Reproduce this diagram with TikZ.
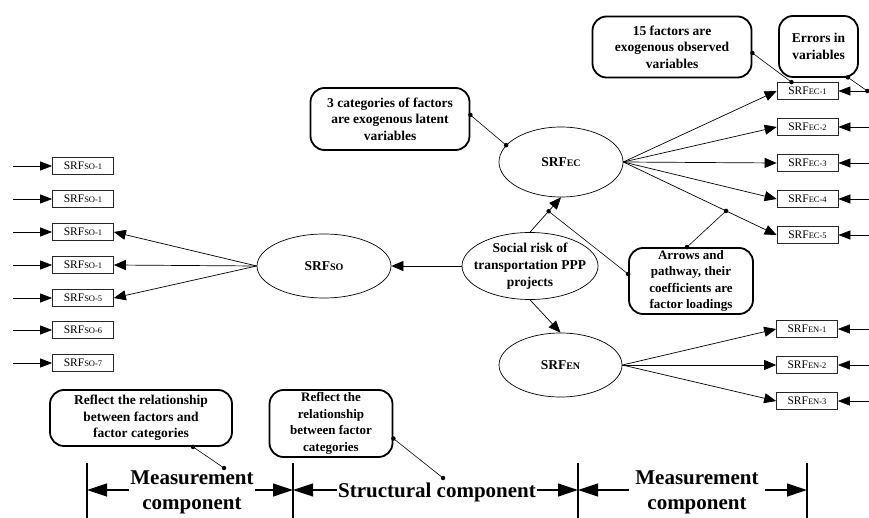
\documentclass[tikz,border=0pt]{standalone}
\usepackage{fontspec}
\setmainfont{Liberation Serif}
\usetikzlibrary{arrows.meta,calc,shapes.geometric}
\newcommand\srfl[1]{SRF{\fontsize{8.5}{8.5}\selectfont #1}}
\newcommand\srfb[1]{SRF{\fontsize{10}{10}\selectfont #1}}
\begin{document}
\begin{tikzpicture}[x=1pt,y=-1pt,
  obs/.style={draw=black!85,line width=0.7pt,minimum width=61pt,minimum height=17pt,inner sep=0pt,font=\fontsize{11.5}{11.5}\selectfont},
  lat/.style={draw,ellipse,line width=0.7pt,inner sep=0pt},
  lattxt/.style={align=center,inner sep=0pt,font=\bfseries\fontsize{13.5}{13.5}\selectfont},
  note/.style={draw,line width=1.8pt,rounded corners=14pt,align=center,inner sep=0pt,font=\bfseries\fontsize{13.5}{16.5}\selectfont},
  arr/.style={line width=0.7pt,-{Triangle[length=12pt,width=10pt]}},
  err/.style={line width=0.7pt,-{Triangle[length=12pt,width=9pt]}},
  lead/.style={line width=0.6pt},
  dot/.style={circle,fill,inner sep=0pt,minimum size=4.5pt},
  bar/.style={line width=1.2pt},
  dim/.style={line width=1.2pt,-{Triangle[length=20pt,width=13pt]}},
  big/.style={font=\bfseries\fontsize{21}{25}\selectfont,align=center,inner sep=0pt}
]
\useasboundingbox (0,0) rectangle (869,518);

% latent ellipses
\node[lat,minimum width=134pt,minimum height=64pt] (so) at (324,266) {};
\node[lattxt] (sotxt) at (so) {\srfb{SO}};
\node[lat,minimum width=136pt,minimum height=67pt] (soc) at (530,266) {};
\node[lattxt,font=\bfseries\fontsize{13.5}{17}\selectfont] (soctxt) at (soc) {Social risk of\\transportation PPP\\projects};
\node[lat,minimum width=124pt,minimum height=70pt] (ec) at (561,162) {};
\node[lattxt] (ectxt) at (ec) {\srfb{EC}};
\node[lat,minimum width=123pt,minimum height=64pt] (en) at (560.5,365) {};
\node[lattxt] (entxt) at (en) {\srfb{EN}};

% observed boxes
\node[obs] (so1) at (83,166) {\srfl{SO-1}};
\node[obs] (so2) at (83,199) {\srfl{SO-1}};
\node[obs] (so3) at (83,232) {\srfl{SO-1}};
\node[obs] (so4) at (83,265) {\srfl{SO-1}};
\node[obs] (so5) at (83,298) {\srfl{SO-5}};
\node[obs] (so6) at (83,330) {\srfl{SO-6}};
\node[obs] (so7) at (83,363) {\srfl{SO-7}};

\node[obs] (ec1) at (807.5,91) {\srfl{EC-1}};
\node[obs] (ec2) at (807.5,127) {\srfl{EC-2}};
\node[obs] (ec3) at (807.5,163) {\srfl{EC-3}};
\node[obs] (ec4) at (807.5,199) {\srfl{EC-4}};
\node[obs] (ec5) at (807.5,235) {\srfl{EC-5}};

\node[obs] (en1) at (807,329) {\srfl{EN-1}};
\node[obs] (en2) at (807,365) {\srfl{EN-2}};
\node[obs] (en3) at (807,401) {\srfl{EN-3}};

% structural arrows
\draw[arr] (soc.west) -- (so.east);
\draw[arr] (soc.north) -- (ec.south);
\draw[arr] (soc.south) -- (en.north);

% loadings
\foreach \i in {3,4,5} \draw[arr] (so.west) -- (so\i.east);
\foreach \i in {1,...,5} \draw[arr] (ec.east) -- (ec\i.west);
\foreach \i in {1,2,3} \draw[arr] (en.east) -- (en\i.west);

% error arrows
\foreach \i in {1,...,7} {
  \path (so\i.west) ++(-39,0) coordinate (soe\i);
  \draw[err] (soe\i) -- (so\i.west);
}
\foreach \i in {1,...,5} {
  \path (ec\i.east) ++(31,0) coordinate (ece\i);
  \draw[err] (ece\i) -- (ec\i.east);
}
\foreach \i in {1,2,3} {
  \path (en\i.east) ++(32,0) coordinate (ene\i);
  \draw[err] (ene\i) -- (en\i.east);
}

% callouts
\node[note,minimum width=159pt,minimum height=62pt] (n3cat) at (390,119) {3 categories of factors\\are exogenous latent\\variables};
\node[note,minimum width=159pt,minimum height=61pt] (n15) at (672,47) {15 factors are\\exogenous observed\\variables};
\node[note,minimum width=79pt,minimum height=61pt] (nerr) at (818.5,46.5) {Errors in\\variables};
\node[note,minimum width=124pt,minimum height=66pt,font=\bfseries\fontsize{13}{16.5}\selectfont] (narr) at (691,281) {Arrows and\\pathway, their\\coefficients are\\factor loadings};
\node[note,minimum width=182pt,minimum height=56pt,font=\bfseries\fontsize{13.5}{16.5}\selectfont] (nr1) at (141,418) {Reflect the relationship\\between factors and\\factor categories};
\node[note,minimum width=123pt,minimum height=67pt,font=\bfseries\fontsize{13}{16.5}\selectfont] (nr2) at (331,423.5) {Reflect the\\relationship\\between factor\\categories};

% leader lines with dots
\coordinate (c3a) at ($(n3cat.east)+(0,-4)$);
\coordinate (c3b) at (ec.163);
\coordinate (c15a) at ($(n15.east)+(0,6)$);
\coordinate (c15b) at ($(ec1.north)+(-16,0)$);
\coordinate (cea) at ($(nerr.south east)+(-11,-0.5)$);
\coordinate (ceb) at ($(ece1)+(-2,0)$);
\coordinate (caa) at ($(narr.north)+(-4,0)$);
\coordinate (cab) at ($(ec.east)!0.67!(ec5.west)$);
\coordinate (cac) at ($(narr.west)+(0,-7)$);
\coordinate (cad) at ($(soc.north)!0.6!(ec.south)$);
\coordinate (cr1a) at ($(nr1.south)+(52,0)$);
\coordinate (cr1b) at (224,468);
\coordinate (cr2a) at ($(nr2.east)+(0,15)$);
\coordinate (cr2b) at (443,478);

\draw[lead] (c3a) -- (c3b);
\draw[lead] (c15a) -- (c15b);
\draw[lead] (cea) -- (ceb);
\draw[lead] (caa) -- (cab);
\draw[lead] (cac) -- (cad);
\draw[lead] (cr1a) -- (cr1b);
\draw[lead] (cr2a) -- (cr2b);
\foreach \c in {c3a,c3b,c15a,c15b,cea,ceb,caa,cab,cac,cad,cr1a,cr1b,cr2a,cr2b}
  \node[dot] (dot-\c) at (\c) {};

% bottom dimension lines
\foreach \i/\x in {1/87,2/293,3/578,4/807} {
  \coordinate (bt\i) at (\x,463);
  \coordinate (bb\i) at (\x,518);
  \coordinate (b\i) at (\x,490);
  \draw[bar] (bt\i) -- (bb\i);
}
\node[big] (m1) at (192,492) {Measurement\\component};
\node[big] (s1) at (437,492) {Structural component};
\node[big] (m2) at (697,492) {Measurement\\component};
\draw[dim] ($(m1.west |- b1)+(-1,0)$) -- (b1);
\draw[dim] ($(m1.east |- b2)+(1,0)$) -- (b2);
\draw[dim] ($(s1.west |- b2)+(-1,0)$) -- (b2);
\draw[dim] ($(s1.east |- b3)+(1,0)$) -- (b3);
\draw[dim] ($(m2.west |- b3)+(-6,0)$) -- (b3);
\draw[dim] ($(m2.east |- b4)+(6,0)$) -- (b4);
\end{tikzpicture}
\end{document}
